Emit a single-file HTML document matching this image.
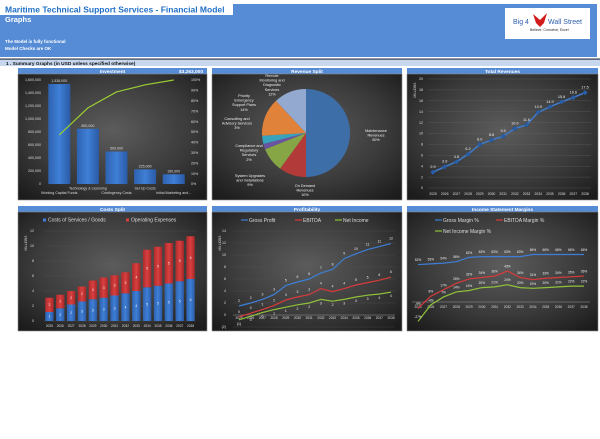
<!DOCTYPE html>
<html><head><meta charset="utf-8">
<style>
html,body{margin:0;padding:0;background:#fff;width:600px;height:439px;overflow:hidden;font-family:"Liberation Sans",sans-serif}
svg text{font-family:"Liberation Sans",sans-serif}
</style></head>
<body>
<svg id="root" width="600" height="439" viewBox="0 0 600 439" xmlns="http://www.w3.org/2000/svg">
<defs>
<radialGradient id="bg" cx="50%" cy="45%" r="70%">
<stop offset="0" stop-color="#5c5c5c"/><stop offset="0.6" stop-color="#3a3a3a"/><stop offset="1" stop-color="#1c1c1c"/>
</radialGradient>
<linearGradient id="barBlue" x1="0" x2="1"><stop offset="0" stop-color="#2e62b0"/><stop offset="0.5" stop-color="#3f7fd6"/><stop offset="1" stop-color="#2a5aa6"/></linearGradient>
<linearGradient id="barRed" x1="0" x2="1"><stop offset="0" stop-color="#b02a2a"/><stop offset="0.5" stop-color="#d84040"/><stop offset="1" stop-color="#a82626"/></linearGradient>
</defs>
<!-- header -->
<rect x="0" y="4" width="597" height="53" fill="#558cd5"/>
<rect x="0" y="4" width="233" height="11" fill="#fff"/>
<text x="5" y="12.5" font-size="8.5" font-weight="bold" fill="#1f6fc7">Maritime Technical Support Services - Financial Model</text>
<text x="5" y="22" font-size="7.5" font-weight="bold" fill="#fff">Graphs</text>
<text x="5" y="43" font-size="4.5" font-weight="bold" fill="#fff">The Model is fully functional</text>
<text x="5" y="50" font-size="4.5" font-weight="bold" fill="#fff">Model Checks are OK</text>
<rect x="505" y="8" width="85" height="31" fill="#fff"/>
<text x="513" y="24" font-size="7" fill="#2f5fb0">Big 4</text>
<path d="M533 14 L540 20 L547 13 L544 23 L540 27 L536 23 Z" fill="#d21c1c"/>
<text x="548" y="24" font-size="7" fill="#2f5fb0">Wall Street</text>
<text x="530" y="31" font-size="3.5" fill="#222">Believe, Conceive, Excel</text>
<rect x="0" y="58.5" width="600" height="1.2" fill="#1f2d44"/>
<rect x="0" y="60" width="600" height="6" fill="#c7d8ee"/>
<text x="6" y="65" font-size="4.8" font-weight="bold" fill="#111">1 .  Summary Graphs (in USD unless specified otherwise)</text>
<g id="panels"></g>
</svg>
<script>
// ---------- data ----------
const invCategories = ["Working Capital Funds","Technology & Licensing","Contingency Costs","Set Up Costs","Initial Marketing and..."];
const invValues = [1538000, 850000, 500000, 225000, 150000];
const invTicks = [0,200000,400000,600000,800000,1000000,1200000,1400000,1600000];
const invPctTicks = [0,10,20,30,40,50,60,70,80,90,100];
const invTotalLabel = "$3,263,000";

const pieLabels = ["Maintenance Revenues","On Demand Revenues","System Upgrades and Installations","Compliance and Regulatory Services","Consulting and Advisory Services","Priority Emergency Support Plans","Remote Monitoring and Diagnostic Services"];
const pieValues = [50,10,9,2,3,14,12];

const years = [2025,2026,2027,2028,2029,2030,2031,2032,2033,2034,2035,2036,2037,2038];
const revenues = [2.9,3.9,4.8,6.2,8.0,8.8,9.5,10.9,11.6,13.9,14.9,15.8,16.6,17.5];
const revTicks = [0,2,4,6,8,10,12,14,16,18,20];

const cogs = [1.2,1.7,2.2,2.6,2.9,3.1,3.4,3.7,4.0,4.5,4.7,5.0,5.3,5.6];
const opex = [1.9,1.8,1.8,2.0,2.5,2.7,2.7,2.8,3.7,5.0,5.2,5.4,5.4,5.7];
const costTicks = [0,2,4,6,8,10,12];

const grossProfit = [1.5,2.0,2.6,3.4,4.9,5.5,6.0,7.0,7.6,9.4,10.2,10.9,11.4,11.9];
const ebitda = [-0.3,0.3,0.9,1.6,2.5,3.0,3.4,4.4,3.9,4.4,5.0,5.4,5.8,6.3];
const netIncome = [-0.8,-0.2,0.4,0.9,1.3,1.7,2.0,2.6,2.3,2.6,3.0,3.3,3.5,3.8];
const profTicks = [-2,0,2,4,6,8,10,12,14];

const grossMargin = [52,53,54,56,62,63,63,63,63,66,66,66,66,66];
const ebitdaMargin = [-9,8,17,26,32,34,36,43,34,31,33,34,35,36];
const netMargin = [-27,-4,7,14,16,20,21,24,20,19,20,21,22,22];

// ---------- helpers ----------
const NS = "http://www.w3.org/2000/svg";
const root = document.getElementById('panels');
function mk(tag, attrs, parent){
  const e = document.createElementNS(NS, tag);
  for (const k in attrs) e.setAttribute(k, attrs[k]);
  (parent||root).appendChild(e);
  return e;
}
function txt(x,y,s,size,fill,anchor){
  const t = mk('text',{x:x,y:y,'font-size':size,fill:fill||'#ddd','text-anchor':anchor||'middle'});
  t.textContent = s;
  return t;
}
function fmt(n){ return n.toLocaleString('en-US'); }
function panel(x,y,w,h,title,name){
  const b = mk('rect',{x:x,y:y,width:w,height:6,fill:'#558cd5'});
  
  
  const t = txt(x+w/2,y+4.8,title,4.8,'#fff');
  t.setAttribute('font-weight','bold');
  
  
  const r = mk('rect',{x:x,y:y+6,width:w,height:h-6,fill:'url(#bg)',stroke:'#888','stroke-width':0.6});
  
  
}

// ---------- Investment ----------
panel(18,68,189,132,'Investment','investment');
{
  const tot = txt(203,72.8,invTotalLabel,4.8,'#fff','end');
  tot.setAttribute('font-weight','bold');
  
  
  const x0=45,x1=188,yB=184,yT=80,max=1600000;
  const yS = v=> yB-(v/max)*(yB-yT);
  const yP = p=> yB-(p/100)*(yB-yT);
  invTicks.forEach(v=>{
    const l = txt(41,yS(v)+1.2,fmt(v),3.6,'#ddd','end');
    
    
  });
  invPctTicks.forEach(p=>{
    const l = txt(191,yP(p)+1.2,p+'%',3.6,'#ddd','start');
    
    
  });
  const bw=(x1-x0)/invValues.length;
  const total = invValues.reduce((a,b)=>a+b,0);
  let cum=0; const pts=[];
  invValues.forEach((v,i)=>{
    const cx = x0+bw*(i+0.5);
    const r = mk('rect',{x:cx-11,y:yS(v),width:22,height:yB-yS(v),fill:'url(#barBlue)'});
    
    
    const l = txt(cx,yS(v)-2,fmt(v),3.6,'#ddd');
    
    
    const c = txt(cx,i%2===0?194:189.5,invCategories[i],3.6,'#ddd');
    
    
    cum+=v; pts.push([cx,yP(cum/total*100)]);
  });
  const pl = mk('polyline',{points:pts.map(p=>p.join(',')).join(' '),fill:'none',stroke:'#9acd32','stroke-width':1.2});
  
  
}

// ---------- Revenue split pie ----------
panel(212,68,190,132,'Revenue Split','revenue-split');
{
  const cx=306,cy=133,r=44;
  const colors=['#3d6ea8','#b23b39','#86a646','#6a53a0','#37a3bd','#e0823a','#93a9d0'];
  const tot = pieValues.reduce((a,b)=>a+b,0);
  let a0=-Math.PI/2;
  pieValues.forEach((v,i)=>{
    const a1=a0+v/tot*2*Math.PI;
    const large=(a1-a0)>Math.PI?1:0;
    const p = mk('path',{d:`M${cx},${cy} L${cx+r*Math.cos(a0)},${cy+r*Math.sin(a0)} A${r},${r} 0 ${large} 1 ${cx+r*Math.cos(a1)},${cy+r*Math.sin(a1)} Z`,fill:colors[i]});
    
    
    a0=a1;
  });
  const labelLines=[
    [376,132,["Maintenance","Revenues",pieValues[0]+"%"]],
    [305,187,["On Demand","Revenues",pieValues[1]+"%"]],
    [250,177,["System Upgrades","and Installations",pieValues[2]+"%"]],
    [249,147,["Compliance and","Regulatory","Services",pieValues[3]+"%"]],
    [237,120,["Consulting and","Advisory Services",pieValues[4]+"%"]],
    [244,97,["Priority","Emergency","Support Plans",pieValues[5]+"%"]],
    [272,77,["Remote","Monitoring and","Diagnostic","Services",pieValues[6]+"%"]]
  ];
  labelLines.forEach((L,i)=>{
    L[2].forEach((s,j)=>{
      const t = txt(L[0],L[1]+j*4.6,s,3.8,'#eee');
      
      
    });
  });
}

// ---------- Total Revenues ----------
panel(407,68,191,132,'Total Revenues','total-revenues');
{
  const x0=433,x1=585,yB=188,yT=79;
  const xS=i=>x0+i*(x1-x0)/(years.length-1);
  const yS=v=>yB-v/20*(yB-yT);
  revTicks.forEach(v=>{
    const g = mk('line',{x1:x0-5,x2:x1+6,y1:yS(v),y2:yS(v),stroke:'#666','stroke-width':0.3});
    
    
    const l = txt(423,yS(v)+1.2,String(v),3.6,'#ddd','end');
    
    
  });
  years.forEach((y,i)=>{
    const l = txt(xS(i),195,String(y),3.4,'#ddd');
    
    
  });
  const ax = txt(416,90,'MILLIONS',3.2,'#ddd');
  ax.setAttribute('transform','rotate(-90 416 90)');
  
  
  const pl = mk('polyline',{points:revenues.map((v,i)=>xS(i)+','+yS(v)).join(' '),fill:'none',stroke:'#3d79c8','stroke-width':1.6});
  
  
  revenues.forEach((v,i)=>{
    const d = mk('path',{d:`M${xS(i)},${yS(v)-2.6} l2.6,2.6 l-2.6,2.6 l-2.6,-2.6 Z`,fill:'#2a5fa8',stroke:'#1b3e70','stroke-width':0.3});
    
    
    const l = txt(xS(i),yS(v)-4,v.toFixed(1),3.8,'#eee');
    
    
  });
}

// ---------- Costs Split ----------
panel(18,206,189,125,'Costs Split','costs-split');
{
  const x0=44,x1=196,yB=321,yT=231;
  const n=years.length, step=(x1-x0)/n;
  const xS=i=>x0+step*(i+0.5);
  const yS=v=>yB-v/12*(yB-yT);
  costTicks.forEach(v=>{
    const g = mk('line',{x1:x0,x2:x1,y1:yS(v),y2:yS(v),stroke:'#555','stroke-width':0.3});
    
    
    const l = txt(34,yS(v)+1.2,String(v),3.6,'#ddd','end');
    
    
  });
  const ax = txt(27,243,'MILLIONS',3.2,'#ddd');
  ax.setAttribute('transform','rotate(-90 27 243)');
  
  
  years.forEach((y,i)=>{
    const cx=xS(i), bw=8.4;
    const b1 = mk('rect',{x:cx-bw/2,y:yS(cogs[i]),width:bw,height:yB-yS(cogs[i]),fill:'url(#barBlue)'});
    
    
    const b2 = mk('rect',{x:cx-bw/2,y:yS(cogs[i]+opex[i]),width:bw,height:yS(cogs[i])-yS(cogs[i]+opex[i]),fill:'url(#barRed)'});
    
    
    const l1 = txt(cx,(yS(cogs[i])+yB)/2+1.2,String(Math.round(cogs[i])),3.4,'#eee');
    
    
    const l2 = txt(cx,(yS(cogs[i])+yS(cogs[i]+opex[i]))/2+1.2,String(Math.round(opex[i])),3.4,'#eee');
    
    
    const xl = txt(cx,327,String(y),3.2,'#ddd');
    
    
  });
  const s1 = mk('rect',{x:43,y:218.5,width:3,height:3,fill:'#3f7fd6'});
  
  
  const t1 = txt(48,221.5,'Costs of Services / Goods',5,'#ddd','start');
  
  
  const s2 = mk('rect',{x:126,y:218.5,width:3,height:3,fill:'#d84040'});
  
  
  const t2 = txt(131,221.5,'Operating Expenses',5,'#ddd','start');
  
  
}

// ---------- Profitability ----------
panel(212,206,190,125,'Profitability','profitability');
{
  const x0=239,x1=391,yB=327,yT=231;
  const xS=i=>x0+i*(x1-x0)/(years.length-1);
  const yS=v=>yB-(v+2)/16*(yB-yT);
  profTicks.forEach(v=>{
    const g = mk('line',{x1:x0-6,x2:x1+4,y1:yS(v),y2:yS(v),stroke:v===0?'#999':'#555','stroke-width':v===0?0.6:0.3});
    
    
    const l = txt(226,yS(v)+1.2,v<0?'('+(-v)+')':String(v),3.6,'#ddd','end');
    
    
  });
  const ax = txt(221,243,'MILLIONS',3.2,'#ddd');
  ax.setAttribute('transform','rotate(-90 221 243)');
  
  
  years.forEach((y,i)=>{
    const xl = txt(xS(i),yS(0)+4,String(y),3.2,'#ddd');
    
    
  });
  [[grossProfit,'#3d7fd6','gross-profit',-4],[ebitda,'#d83a3a','ebitda',-4],[netIncome,'#8fc23a','net-income',5]].forEach(S=>{
    const pl = mk('polyline',{points:S[0].map((v,i)=>xS(i)+','+yS(v)).join(' '),fill:'none',stroke:S[1],'stroke-width':1.2});
    
    
    S[0].forEach((v,i)=>{
      const r=Math.round(v);
      const l = txt(xS(i),yS(v)+S[3],r<0?'('+(-r)+')':String(r),3.4,'#eee');
      
      
    });
  });
  const leg=[[249,'#3d7fd6','Gross Profit','legend-gross-profit'],[303,'#d83a3a','EBITDA','legend-ebitda'],[343,'#8fc23a','Net Income','legend-net-income']];
  leg.forEach(L=>{
    const ln = mk('line',{x1:L[0]-8,x2:L[0]-1,y1:220,y2:220,stroke:L[1],'stroke-width':1.2});
    
    
    const t = txt(L[0],221.8,L[2],5,'#ddd','start');
    
    
  });
}

// ---------- Income Statement Margins ----------
panel(407,206,191,125,'Income Statement Margins','margins');
{
  const x0=418,x1=584;
  const xS=i=>x0+i*(x1-x0)/(years.length-1);
  const yS=p=>302-p*0.72;
  const axl = mk('line',{x1:x0-6,x2:x1+6,y1:yS(0),y2:yS(0),stroke:'#999','stroke-width':0.5});
  
  
  years.forEach((y,i)=>{
    const xl = txt(xS(i),308,String(y),3.2,'#ddd');
    
    
  });
  [[grossMargin,'#3d7fd6','gross-margin'],[ebitdaMargin,'#d83a3a','ebitda-margin'],[netMargin,'#8fc23a','net-margin']].forEach(S=>{
    const pl = mk('polyline',{points:S[0].map((v,i)=>xS(i)+','+yS(v)).join(' '),fill:'none',stroke:S[1],'stroke-width':1.2});
    
    
    S[0].forEach((v,i)=>{
      const l = txt(xS(i),yS(v)-3.5,(v<0?'-':'')+Math.abs(v)+'%',3.2,'#eee');
      
      
    });
  });
  const leg=[[443,220,'#3d7fd6','Gross Margin %','legend-gross-margin'],[504,220,'#d83a3a','EBITDA Margin %','legend-ebitda-margin'],[443,231,'#8fc23a','Net Income Margin %','legend-net-margin']];
  leg.forEach(L=>{
    const ln = mk('line',{x1:L[0]-8,x2:L[0]-1,y1:L[1],y2:L[1],stroke:L[2],'stroke-width':1.2});
    
    
    const t = txt(L[0],L[1]+1.8,L[3],5,'#ddd','start');
    
    
  });
}
</script>
</body></html>
